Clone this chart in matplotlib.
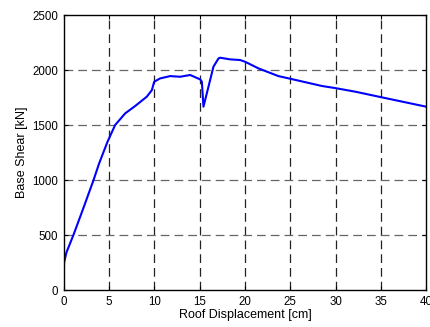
import matplotlib
matplotlib.use("Agg")
import matplotlib.pyplot as plt

disp = [0.0, 0.0, 0.05, 0.3, 1.08, 2.2, 3.3, 3.92, 4.84, 5.68, 6.79, 7.89, 9.18, 9.74, 9.99,
        10.65, 11.75, 12.86, 13.96, 15.07, 15.25, 15.43, 15.98, 16.53, 17.09, 17.27, 18.38,
        19.48, 20.03, 21.5, 23.7, 25.0, 28.5, 29.97, 32.2, 35.1, 40.0]
shear = [0, 150, 250, 340, 500, 750, 1000, 1152, 1348, 1500, 1606, 1673, 1758, 1818, 1894,
         1924, 1945, 1939, 1955, 1915, 1894, 1667, 1848, 2030, 2106, 2112, 2097,
         2091, 2075, 2015, 1945, 1921, 1855, 1836, 1803, 1752, 1667]

xticks = [0, 5, 10, 15, 20, 25, 30, 35, 40]
yticks = [0, 500, 1000, 1500, 2000, 2500]

plt.rcParams['font.family'] = ['Liberation Sans', 'DejaVu Sans']
fig = plt.figure(figsize=(4.3, 3.27), dpi=100)
ax = fig.add_axes([0.148, 0.113, 0.843, 0.841])
ax.plot(disp, shear, color='#0000ff', lw=1.5)
ax.set_xlim(0, 40)
ax.set_ylim(0, 2500)
ax.set_xticks(xticks)
ax.set_yticks(yticks)
for x in xticks[1:-1]:
    ax.axvline(x, color='#222222', lw=0.9, dashes=(7, 4), zorder=0)
for y in yticks[1:-1]:
    ax.axhline(y, color='#666666', lw=0.9, dashes=(7, 4), zorder=0)
ax.tick_params(direction='in', length=3, width=0.8, top=True, right=True, labelsize=8.3, pad=4)
for s in ax.spines.values():
    s.set_linewidth(1.0)
ax.set_xlabel('Roof Displacement [cm]', fontsize=9, labelpad=1)
ax.set_ylabel('Base Shear [kN]', fontsize=9, labelpad=3)
fig.savefig('out.png', dpi=100)
